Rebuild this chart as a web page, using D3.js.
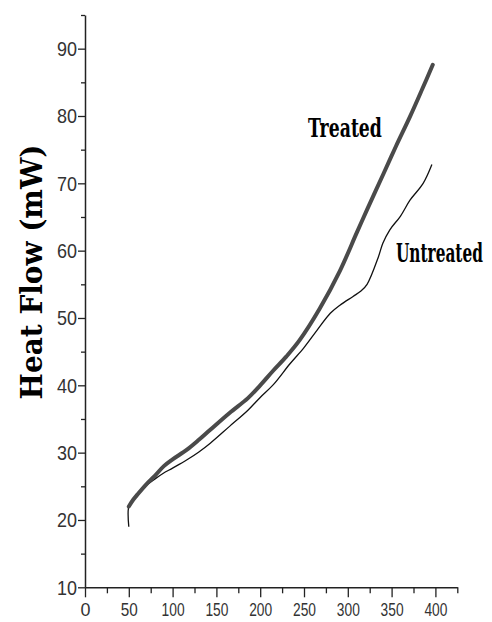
<!DOCTYPE html>
<html>
<head>
<meta charset="utf-8">
<script src="https://cdn.jsdelivr.net/npm/d3@7/dist/d3.min.js"></script>
<style>
  html, body { margin: 0; padding: 0; background: #fff; }
  svg { display: block; }
</style>
</head>
<body>
<script>
// ---- data ----
const xMajorTicks = [0, 50, 100, 150, 200, 250, 300, 350, 400];
const xMinorTicks = [25, 75, 125, 175, 225, 275, 325, 375, 425];
const yMajorTicks = [10, 20, 30, 40, 50, 60, 70, 80, 90];
const yMinorTicks = [15, 25, 35, 45, 55, 65, 75, 85, 95];

const treatedX = [50, 55, 60, 70, 80, 90, 100, 116, 130, 143, 165, 186, 200, 215, 230, 245, 268, 291, 310, 322, 341, 355, 371, 385, 397];
const treatedY = [22.0, 23.0, 23.8, 25.3, 26.6, 28.0, 29.0, 30.4, 31.9, 33.4, 35.9, 38.1, 40.0, 42.2, 44.3, 46.7, 51.4, 57.0, 62.6, 66.1, 71.5, 75.5, 79.9, 84.0, 87.6];

const untreatedX = [50, 50, 55, 60, 70, 80, 89, 100, 116, 130, 143, 165, 186, 200, 215, 234, 250, 265, 280, 291, 306, 315, 322, 335, 340, 348, 360, 371, 386, 396];
const untreatedY = [19.0, 22.0, 23.0, 23.7, 25.1, 26.1, 26.9, 27.7, 28.9, 30.1, 31.4, 33.9, 36.3, 38.2, 40.1, 43.2, 45.6, 48.2, 50.7, 51.9, 53.2, 54.0, 55.0, 59.1, 61.1, 63.1, 65.1, 67.5, 70.0, 72.8];

const seriesLabels = ["Treated", "Untreated"];
const yAxisTitle = "Heat Flow (mW)";

// ---- drawing ----
const W = 492, H = 622;
const svg = d3.select("body").append("svg").attr("width", W).attr("height", H);

const x = d3.scaleLinear().domain([0, 425]).range([85, 457.3]);
const y = d3.scaleLinear().domain([10, 95]).range([587.3, 15]);

const axisColor = "#222";
const labelColor = "#333";

// compress a text horizontally to a target width using a transform
function squeeze(sel, tx, ty, width, rotate) {
  sel.each(function () {
    const natural = this.getComputedTextLength();
    const sx = width / natural;
    d3.select(this).attr("transform",
      `translate(${tx},${ty})` + (rotate ? ` rotate(${rotate})` : "") + ` scale(${sx},1)`);
  });
}

// x axis
const gx = svg.append("g").attr("transform", `translate(0,${y(10)})`);
gx.call(d3.axisBottom(x).tickValues(xMajorTicks).tickSize(10).tickSizeOuter(0).tickFormat(d3.format("d")));
const gxm = svg.append("g").attr("transform", `translate(0,${y(10)})`);
gxm.call(d3.axisBottom(x).tickValues(xMinorTicks).tickSize(6).tickSizeOuter(0).tickFormat(""));
gxm.select(".domain").remove();

// y axis
const gy = svg.append("g").attr("transform", `translate(${x(0)},0)`);
gy.call(d3.axisLeft(y).tickValues(yMajorTicks).tickSize(7).tickSizeOuter(0).tickFormat(d3.format("d")));
const gym = svg.append("g").attr("transform", `translate(${x(0)},0)`);
gym.call(d3.axisLeft(y).tickValues(yMinorTicks).tickSize(4).tickSizeOuter(0).tickFormat(""));
gym.select(".domain").remove();

svg.selectAll(".domain").attr("stroke", axisColor).attr("stroke-width", 1.5);
svg.selectAll(".tick line").attr("stroke", axisColor).attr("stroke-width", 1.3);

const tickFont = "'Liberation Sans', Arial, sans-serif";
gx.selectAll(".tick text")
  .attr("font-family", tickFont).attr("font-size", 19).attr("fill", labelColor)
  .attr("dy", 0).attr("y", 0)
  .each(function (d) {
    const w = d < 10 ? 10 : d < 100 ? 17 : 23;
    squeeze(d3.select(this), 0, 29, w);
  });

gy.selectAll(".tick text")
  .attr("font-family", tickFont).attr("font-size", 20).attr("fill", labelColor)
  .attr("x", 0).attr("dy", "0.35em")
  .each(function () { squeeze(d3.select(this), -8, 0, 20); });

// lines
const line = d3.line().x(d => x(d[0])).y(d => y(d[1])).curve(d3.curveCatmullRom.alpha(0.5));
const untreated = untreatedX.map((v, i) => [v, untreatedY[i]]);
const treated = treatedX.map((v, i) => [v, treatedY[i]]);

svg.append("path").datum(untreated).attr("d", line)
  .attr("fill", "none").attr("stroke", "#111").attr("stroke-width", 1.3);
svg.append("path").datum(treated).attr("d", line)
  .attr("fill", "none").attr("stroke", "#4a4a4a").attr("stroke-width", 4)
  .attr("stroke-linecap", "round");

// series labels
const serif = "'DejaVu Serif', 'Liberation Serif', serif";
svg.append("text").text(seriesLabels[0])
  .attr("font-family", serif).attr("font-weight", "bold").attr("font-size", 26)
  .attr("fill", "#000")
  .call(squeeze, 308, 137, 74);
svg.append("text").text(seriesLabels[1])
  .attr("font-family", serif).attr("font-weight", "bold").attr("font-size", 26)
  .attr("fill", "#000")
  .call(squeeze, 396, 262, 87);

// y axis title
svg.append("text").text(yAxisTitle)
  .attr("text-anchor", "middle")
  .attr("font-family", serif).attr("font-weight", "bold").attr("font-size", 29)
  .attr("fill", "#000")
  .call(squeeze, 41.5, 272, 255, -90);
</script>
</body>
</html>
